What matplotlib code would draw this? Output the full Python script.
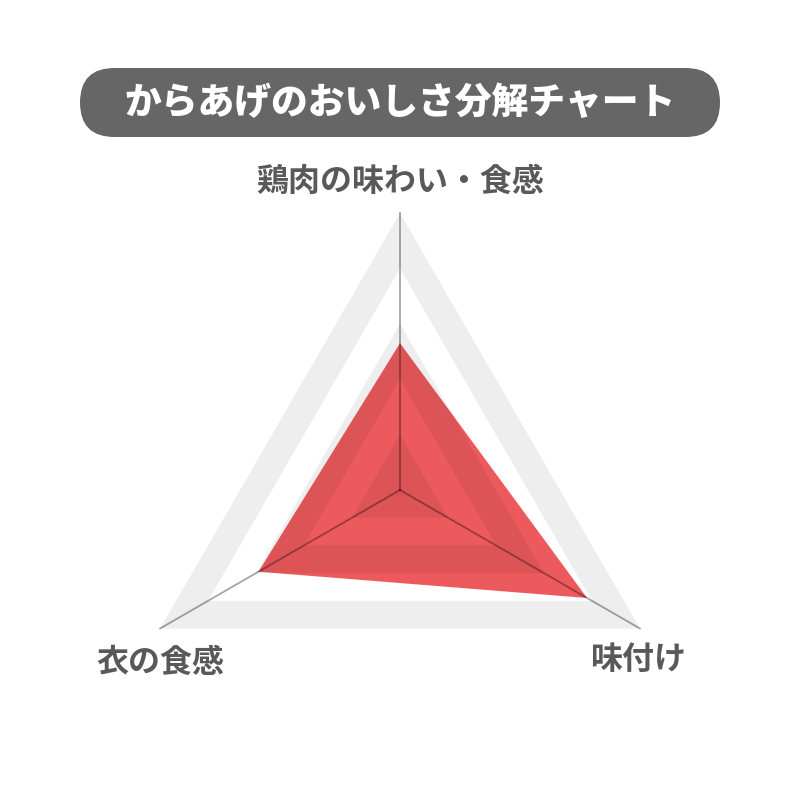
import numpy as np
import matplotlib
matplotlib.use("Agg")
import matplotlib.pyplot as plt
from matplotlib.patches import FancyBboxPatch, Polygon, PathPatch
from matplotlib.path import Path

plt.rcParams['font.family'] = ['Noto Sans CJK JP', 'DejaVu Sans']

# data
title = "からあげのおいしさ分解チャート"
categories = ["鶏肉の味わい・食感", "味付け", "衣の食感"]
values = [53, 78, 59]          # 0-100
grid_levels = [20, 40, 60, 80, 100]
vmax = 100

# layout (pixel coords, y down)
cx, cy, R = 400, 490, 277
angles = np.deg2rad([90, -30, 210])   # top, bottom-right, bottom-left


def pts(r):
    r = np.atleast_1d(r) * np.ones(len(angles))
    return np.column_stack([cx + r * R / vmax * np.cos(angles),
                            cy - r * R / vmax * np.sin(angles)])


fig = plt.figure(figsize=(8, 8), dpi=100)
ax = fig.add_axes([0, 0, 1, 1])
ax.set_xlim(0, 800)
ax.set_ylim(800, 0)
ax.set_aspect('equal')
ax.axis('off')

# title pill
ax.add_patch(FancyBboxPatch((80, 68), 640, 69,
                            boxstyle="round,pad=0,rounding_size=34.5",
                            fc='#666666', ec='none', zorder=1))
ax.text(400, 103, title, color='white', fontsize=26.5, fontweight='heavy',
        ha='center', va='center', zorder=2)

# data polygon
ax.add_patch(Polygon(pts(values), closed=True, fc='#ed5a5e', ec='none', zorder=2))

# grid bands (drawn on top, translucent)
bands = [(80, 100), (40, 60), (0, 20)]
for lo, hi in bands:
    outer = pts(hi)
    verts = list(outer) + [outer[0]]
    codes = [Path.MOVETO] + [Path.LINETO] * 2 + [Path.CLOSEPOLY]
    if lo > 0:
        inner = pts(lo)[::-1]
        verts += list(inner) + [inner[0]]
        codes += [Path.MOVETO] + [Path.LINETO] * 2 + [Path.CLOSEPOLY]
    ax.add_patch(PathPatch(Path(verts, codes), fc=(0, 0, 0, 0.065), ec='none', zorder=3))

# spokes
for x, y in pts(vmax):
    ax.plot([cx, x], [cy, y], color=(0, 0, 0, 0.35), lw=1.3, zorder=4)

# axis labels
label_pos = [(400, 182), (638, 660), (160, 663)]
for (lx, ly), lab in zip(label_pos, categories):
    ax.text(lx, ly, lab, color='#595959', fontsize=23, fontweight='bold',
            ha='center', va='center')

fig.savefig("out.png", dpi=100)
